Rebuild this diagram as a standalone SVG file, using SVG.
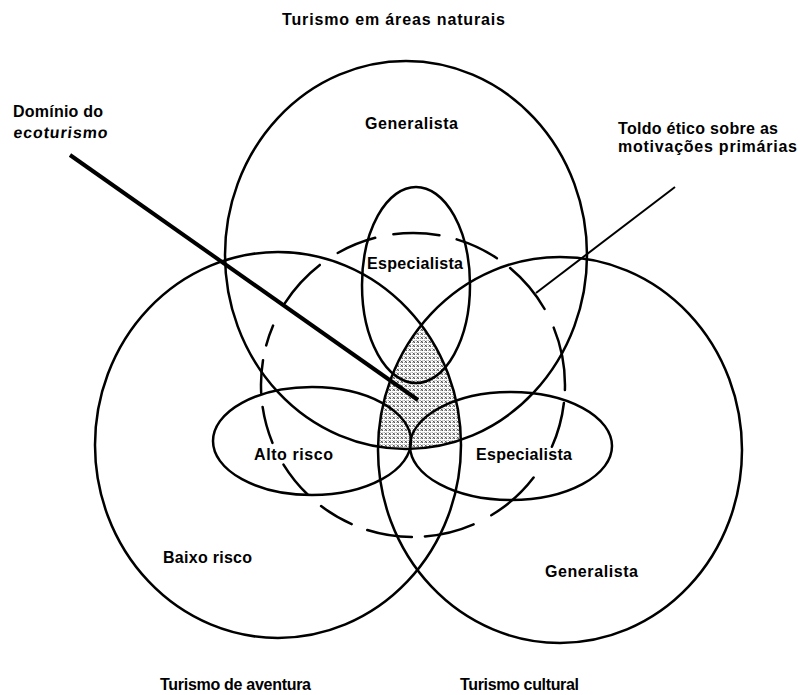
<svg xmlns="http://www.w3.org/2000/svg" width="801" height="695" viewBox="0 0 801 695">
<style>
.ring{fill:none;stroke:#000;stroke-width:2.5}
.dash{fill:none;stroke:#000;stroke-width:2.5;stroke-linecap:round}
.lbl{font-family:"Liberation Sans",Arial,sans-serif;font-weight:bold;font-size:16px;fill:#000}
.ptr{stroke:#000;fill:none}
</style>
<defs>
<pattern id="hatch" width="4" height="4" patternUnits="userSpaceOnUse">
<rect width="4" height="4" fill="#fff"/>
<path d="M0.5,0.5 L3,3 M3,0.5 L0.5,3" stroke="#444" stroke-width="0.9"/>
</pattern>
<clipPath id="clipL"><ellipse cx="278" cy="445" rx="183" ry="193"/></clipPath>
<clipPath id="clipR"><ellipse cx="560" cy="450" rx="182" ry="193"/></clipPath>
</defs>
<rect width="801" height="695" fill="#fff"/>

<g id="ecoturismo-shading" clip-path="url(#clipR)">
<ellipse cx="406" cy="255" rx="181" ry="194" fill="url(#hatch)" clip-path="url(#clipL)"/>
</g>

<g id="areas-naturais">
<ellipse class="ring" cx="406" cy="255" rx="181" ry="194"/>
<text class="lbl" x="282" y="25" textLength="223" lengthAdjust="spacing">Turismo em áreas naturais</text>
<text class="lbl" x="365" y="129" textLength="93" lengthAdjust="spacing">Generalista</text>
</g>

<g id="aventura">
<ellipse class="ring" cx="278" cy="445" rx="183" ry="193"/>
<text class="lbl" x="163" y="563" textLength="89" lengthAdjust="spacing">Baixo risco</text>
<text class="lbl" x="160" y="690" textLength="151" lengthAdjust="spacing">Turismo de aventura</text>
</g>

<g id="cultural">
<ellipse class="ring" cx="560" cy="450" rx="182" ry="193"/>
<text class="lbl" x="545" y="577" textLength="93" lengthAdjust="spacing">Generalista</text>
<text class="lbl" x="460" y="690" textLength="119" lengthAdjust="spacing">Turismo cultural</text>
</g>

<g id="especialista-naturais">
<ellipse class="ring" cx="416" cy="285" rx="54" ry="98"/>
<text class="lbl" x="367" y="269" textLength="96" lengthAdjust="spacing">Especialista</text>
</g>

<g id="alto-risco">
<ellipse class="ring" cx="312" cy="441" rx="99" ry="54"/>
<text class="lbl" x="254" y="460" textLength="79" lengthAdjust="spacing">Alto risco</text>
</g>

<g id="especialista-cultural">
<ellipse class="ring" cx="511" cy="446" rx="101" ry="54"/>
<text class="lbl" x="476" y="460" textLength="96" lengthAdjust="spacing">Especialista</text>
</g>

<g id="toldo-etico">
<path class="dash" d="M393.4,234.3 A152,152 0 0 1 439.4,235.3
M337.7,253.0 A152,152 0 0 1 375.2,237.8
M456.7,239.4 A152,152 0 0 1 496.9,258.2
M510.1,268.0 A152,152 0 0 1 544.6,309.0
M553.7,327.6 A152,152 0 0 1 564.9,390.0
M563.9,403.0 A152,152 0 0 1 551.9,446.8
M533.6,477.5 A152,152 0 0 1 491.3,515.3
M473.6,524.4 A152,152 0 0 1 424.9,536.5
M411.9,537.0 A152,152 0 0 1 367.3,530.0
M351.7,524.1 A152,152 0 0 1 321.1,506.1
M307.6,494.5 A152,152 0 0 1 283.5,464.6
M272.5,442.9 A152,152 0 0 1 262.6,406.9
M261.2,393.0 A152,152 0 0 1 263.0,360.2
M266.2,345.4 A152,152 0 0 1 273.1,325.6
M284.9,303.1 A152,152 0 0 1 319.8,264.9"/>
</g>

<g id="dominio-label">
<text class="lbl" x="13" y="117" textLength="90" lengthAdjust="spacing">Domínio do</text>
<text class="lbl" transform="translate(13,138) skewX(-6)" x="0" y="0" textLength="94" lengthAdjust="spacing">ecoturismo</text>
</g>

<g id="toldo-label">
<text class="lbl" x="618" y="134" textLength="160" lengthAdjust="spacing">Toldo ético sobre as</text>
<text class="lbl" x="618" y="152" textLength="179" lengthAdjust="spacing">motivações primárias</text>
</g>

<g id="connectors">
<line class="ptr" x1="70" y1="155" x2="418" y2="400" stroke-width="4"/>
<line class="ptr" x1="675" y1="187" x2="536" y2="293" stroke-width="2"/>
</g>
</svg>
